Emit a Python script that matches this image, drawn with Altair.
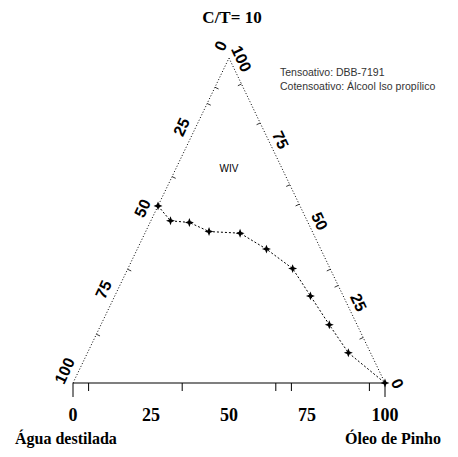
import altair as alt
import pandas as pd

# ---------------- data ----------------
title_text = "C/T= 10"
vertex_left = "Água destilada"
vertex_right = "Óleo de Pinho"
region_label = "WIV"
note_lines = ["Tensoativo: DBB-7191", "Cotensoativo: Álcool Iso propílico"]

# binodal curve: % Óleo de Pinho and % C/T (water = remainder)
curve_oil = [0, 6.3, 12.6, 20.3, 30.5, 41.4, 52.8, 62.7, 73.2, 83.6, 100]
curve_ct = [54.5, 49.9, 49.4, 46.6, 46.1, 41.2, 35.2, 26.8, 17.9, 9.3, 0]

axis_ticks = [0, 25, 50, 75, 100]
base_minor = [5, 35, 65, 70, 95]
left_minor_ct = [15, 35, 63.5, 86, 91]
right_minor_ct = [14, 30, 35, 55, 61, 80, 92]

# ---------------- layout ----------------
W, H = 312, 325           # plot area (triangle base and height, px)
KX, KY = W / 100, H / 100  # px per unit
PAD_L, PAD_T = 65, 50
TOT_W, TOT_H = 442, 441

xs = alt.Scale(domain=[0, 100], nice=False, zero=False)
ys = alt.Scale(domain=[0, 100], nice=False, zero=False)


def X(f):
    return alt.X(f, type="quantitative", scale=xs, axis=None)


def Y(f):
    return alt.Y(f, type="quantitative", scale=ys, axis=None)


def px_dx(p):
    return p / KX


def px_dy(p):  # screen px downward -> data units
    return -p / KY


# triangle sides (dotted)
sides = pd.DataFrame({
    "x": [0, 50, 50, 100],
    "y": [0, 100, 100, 0],
    "side": ["L", "L", "R", "R"],
    "o": [0, 1, 0, 1],
})
sides_layer = alt.Chart(sides).mark_line(
    color="black", strokeWidth=1, strokeDash=[1, 2]
).encode(x=X("x"), y=Y("y"), detail="side:N", order="o:Q")

# base axis line
base = pd.DataFrame({"x": [0], "x2": [100], "y": [0]})
base_layer = alt.Chart(base).mark_rule(color="black", strokeWidth=1.2).encode(
    x=X("x"), x2="x2:Q", y=Y("y")
)

# base ticks
bt = pd.DataFrame({
    "x": base_minor + [0, 100],
    "y": [0] * (len(base_minor) + 2),
    "y2": [px_dy(8)] * len(base_minor) + [px_dy(14)] * 2,
})
bt_layer = alt.Chart(bt).mark_rule(color="black", strokeWidth=1).encode(
    x=X("x"), y=Y("y"), y2="y2:Q"
)

# side ticks (short inward marks)
nx, ny = 0.905 * 4, 0.426 * 4
rows = []
for c in left_minor_ct:
    x0, y0 = c / 2, c
    rows.append({"x": x0, "y": y0, "x2": x0 + px_dx(nx), "y2": y0 + px_dy(ny)})
for c in right_minor_ct:
    x0, y0 = 100 - c / 2, c
    rows.append({"x": x0, "y": y0, "x2": x0 - px_dx(nx), "y2": y0 + px_dy(ny)})
st = pd.DataFrame(rows)
st_layer = alt.Chart(st).mark_rule(color="black", strokeWidth=0.8).encode(
    x=X("x"), y=Y("y"), x2="x2:Q", y2="y2:Q"
)

# curve
curve = pd.DataFrame({
    "i": list(range(len(curve_oil))),
    "oil": curve_oil,
    "ct": curve_ct,
})
curve["x"] = curve["oil"] + curve["ct"] / 2
curve["y"] = curve["ct"]
curve_line = alt.Chart(curve).mark_line(
    color="black", strokeWidth=1, strokeDash=[2, 2]
).encode(x=X("x"), y=Y("y"), order="i:Q")
star = "M0,-1L0.28,-0.28L1,0L0.28,0.28L0,1L-0.28,0.28L-1,0L-0.28,-0.28Z"
curve_pts = alt.Chart(curve).mark_point(
    shape=star, filled=True, color="black", size=80, opacity=1
).encode(x=X("x"), y=Y("y"))

# base labels
bl = pd.DataFrame({"v": axis_ticks})
bl["x"] = bl["v"]
bl["y"] = px_dy(33)
bl["t"] = bl["v"].astype(str)
bl_layer = alt.Chart(bl).mark_text(
    font="Liberation Serif", fontWeight="bold", fontSize=18, color="black",
    align="center", baseline="middle"
).encode(x=X("x"), y=Y("y"), text="t:N")

# left side labels (water %): water w -> ct = 100 - w
ll = pd.DataFrame({"v": axis_ticks})
ll["ct"] = 100 - ll["v"]
ll["x"] = ll["ct"] / 2 + px_dx(-8)
ll["y"] = ll["ct"] + px_dy(-12)
ll["t"] = ll["v"].astype(str)
ll_layer = alt.Chart(ll).mark_text(
    font="Liberation Sans", fontWeight="bold", fontSize=16, color="black",
    align="center", baseline="middle", angle=295
).encode(x=X("x"), y=Y("y"), text="t:N")

# right side labels (C/T %)
rl = pd.DataFrame({"v": axis_ticks})
rl["x"] = 100 - rl["v"] / 2 + px_dx(12)
rl["y"] = rl["v"] + px_dy(1)
rl["t"] = rl["v"].astype(str)
rl_layer = alt.Chart(rl).mark_text(
    font="Liberation Sans", fontWeight="bold", fontSize=16, color="black",
    align="center", baseline="middle", angle=65
).encode(x=X("x"), y=Y("y"), text="t:N")

# vertex names
NAME_Y = 439 - 8 - PAD_T
vn = pd.DataFrame({"t": [vertex_left, vertex_right], "x": [0, 100]})
vn_left = alt.Chart(vn.iloc[[0]]).mark_text(
    font="Liberation Serif", fontWeight="bold", fontSize=16, color="black",
    align="left", baseline="middle", dx=-58
).encode(x=X("x"), y=alt.value(NAME_Y), text="t:N")
vn_right = alt.Chart(vn.iloc[[1]]).mark_text(
    font="Liberation Serif", fontWeight="bold", fontSize=16, color="black",
    align="left", baseline="middle", dx=-40
).encode(x=X("x"), y=alt.value(NAME_Y), text="t:N")

# title and notes
ttl = alt.Chart(pd.DataFrame({"t": [title_text]})).mark_text(
    font="Liberation Serif", fontWeight="bold", fontSize=17, color="black",
    align="center", baseline="middle"
).encode(x=alt.value(232 - 8 - PAD_L), y=alt.value(18 - 8 - PAD_T), text="t:N")

notes = pd.DataFrame({"t": note_lines, "k": [0, 1]})
notes["py"] = [73 - 8 - PAD_T, 87 - 8 - PAD_T]
notes_layer = alt.Chart(notes).mark_text(
    font="Liberation Sans", fontSize=10.5, color="#333333",
    align="left", baseline="middle"
).encode(x=alt.value(280 - 8 - PAD_L), y=alt.Y("py:Q", scale=None, axis=None), text="t:N")

region = alt.Chart(pd.DataFrame({"t": [region_label], "x": [50], "y": [66]})).mark_text(
    font="Liberation Sans", fontSize=10, color="black", align="center", baseline="middle"
).encode(x=X("x"), y=Y("y"), text="t:N")

chart = alt.layer(
    sides_layer, base_layer, bt_layer, st_layer, curve_line, curve_pts,
    bl_layer, ll_layer, rl_layer, vn_left, vn_right, ttl, notes_layer, region
).properties(
    width=W, height=H,
    autosize=alt.AutoSizeParams(type="none"),
    padding={"left": PAD_L, "top": PAD_T, "right": TOT_W - PAD_L - W, "bottom": TOT_H - PAD_T - H},
    background="white",
).configure_view(stroke=None)

chart.save("out.html", embed_options={"renderer": "svg", "actions": False})
